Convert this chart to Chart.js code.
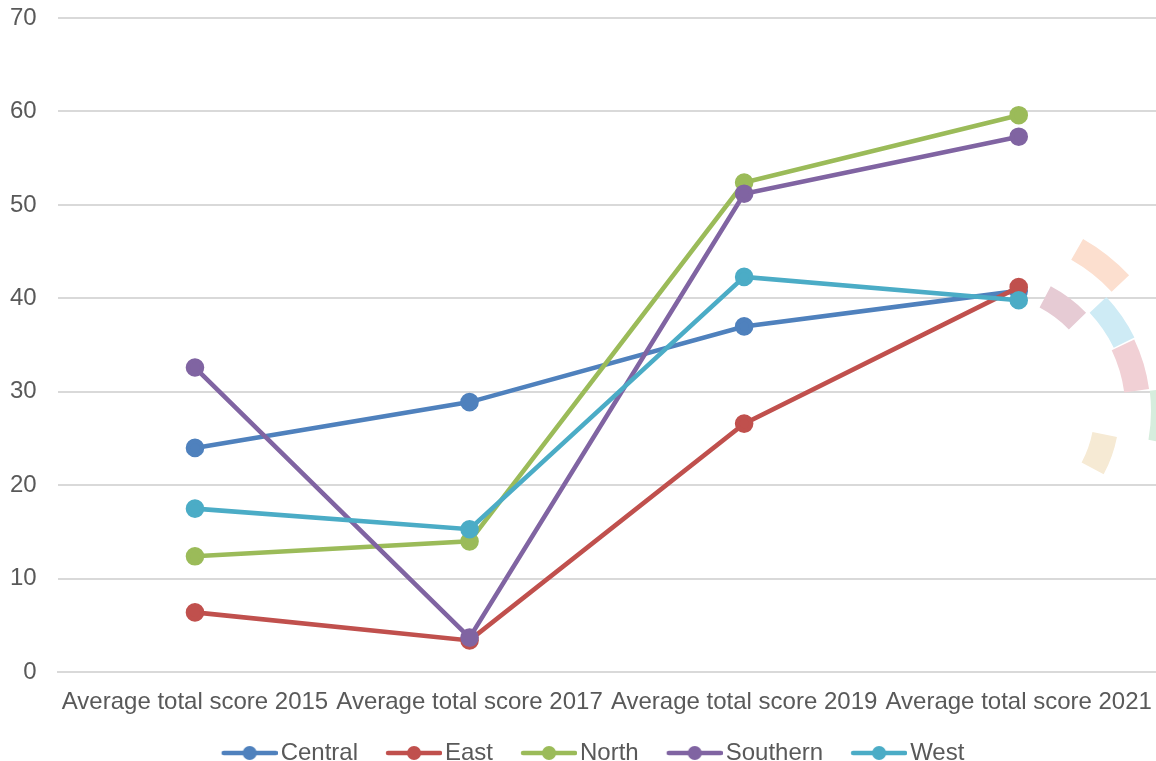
<!DOCTYPE html>
<html>
<head>
<meta charset="utf-8">
<script src="https://cdn.jsdelivr.net/npm/chart.js@4.4.1/dist/chart.umd.min.js"></script>
<style>
    html, body { margin: 0; padding: 0; background: white; }
    #wrap { width: 1156px; height: 761px; }
</style>
</head>
<body>
<div id="wrap"><canvas id="chart"></canvas></div>
<script>
const categories = ['Average total score 2015', 'Average total score 2017', 'Average total score 2019', 'Average total score 2021'];
const seriesNames = ['Central', 'East', 'North', 'Southern', 'West'];
const central = [24.0, 28.9, 37.0, 40.8];
const east = [6.4, 3.4, 26.6, 41.2];
const north = [12.4, 14.0, 52.4, 59.6];
const southern = [32.6, 3.7, 51.2, 57.3];
const west = [17.5, 15.3, 42.3, 39.8];
const colors = ['#4F81BD', '#C0504D', '#9BBB59', '#8064A2', '#4BACC6'];

const seriesData = [central, east, north, southern, west];

// legend icon: blank space on the left, then a short line with a dot in the middle
function makeIcon(color) {
    const c = document.createElement('canvas');
    c.width = 85;
    c.height = 16;
    const g = c.getContext('2d');
    g.strokeStyle = color;
    g.lineWidth = 4.5;
    g.lineCap = 'round';
    g.beginPath();
    g.moveTo(31, 8);
    g.lineTo(83, 8);
    g.stroke();
    g.fillStyle = color;
    g.beginPath();
    g.arc(57, 8, 7, 0, Math.PI * 2);
    g.fill();
    return c;
}
const icons = colors.map(makeIcon);

// faded ring pieces on the right side of the picture
const ringPieces = [
    { r: 186, w: 24, a: -51.8, s: 17, c: '#FCDFCF' },
    { r: 129, w: 24, a: -53.2, s: 18, c: '#E6CBD4' },
    { r: 155, w: 23, a: -34.7, s: 17, c: '#CEEBF5' },
    { r: 153, w: 25, a: -16.6, s: 18, c: '#F1D0D5' },
    { r: 176, w: 20, a: 1.5, s: 17, c: '#D6EDDD' },
    { r: 122, w: 25, a: 19.6, s: 17, c: '#F6EAD4' }
];

const ringPlugin = {
    id: 'ring_pieces',
    beforeDatasetsDraw: (chart) => {
        const ctx = chart.ctx;
        const cx = 985, cy = 411;
        ctx.save();
        ringPieces.forEach(p => {
            const a0 = (p.a - p.s / 2) * Math.PI / 180;
            const a1 = (p.a + p.s / 2) * Math.PI / 180;
            ctx.strokeStyle = p.c;
            ctx.lineWidth = p.w;
            ctx.lineCap = 'butt';
            ctx.beginPath();
            ctx.arc(cx, cy, p.r, a0, a1);
            ctx.stroke();
        });
        ctx.restore();
    }
};

const fontFamily = '"Liberation Sans", Arial, sans-serif';

new Chart(document.getElementById('chart'), {
    type: 'line',
    plugins: [ringPlugin],
    data: {
        labels: categories,
        datasets: seriesNames.map((name, i) => ({
            label: name,
            data: seriesData[i],
            borderColor: colors[i],
            backgroundColor: colors[i],
            pointBackgroundColor: colors[i],
            pointBorderColor: colors[i],
            borderWidth: 4.6,
            pointRadius: 7,
            pointHoverRadius: 7,
            tension: 0,
            order: seriesNames.length - i
        }))
    },
    options: {
        responsive: true,
        maintainAspectRatio: false,
        animation: false,
        layout: {
            autoPadding: false,
            padding: { top: 18, right: 0, left: 10, bottom: -14 }
        },
        scales: {
            x: {
                offset: true,
                grid: {
                    display: true,
                    drawOnChartArea: false,
                    drawTicks: true,
                    tickLength: 16,
                    tickColor: 'rgba(0,0,0,0)'
                },
                border: { display: true, color: '#D9D9D9', width: 2 },
                ticks: {
                    color: '#595959',
                    maxRotation: 0,
                    autoSkip: false,
                    padding: 0,
                    font: { family: fontFamily, size: 24 }
                },
                afterFit: (scale) => {
                    scale.height += 16;
                    scale.paddingLeft = 0;
                    scale.paddingRight = 0;
                }
            },
            y: {
                min: 0,
                max: 70,
                grid: {
                    color: '#D9D9D9',
                    lineWidth: 2,
                    drawTicks: true,
                    tickLength: 21,
                    tickColor: 'rgba(0,0,0,0)'
                },
                border: { display: false },
                ticks: {
                    stepSize: 10,
                    color: '#595959',
                    padding: 0,
                    font: { family: fontFamily, size: 24 }
                }
            }
        },
        plugins: {
            legend: {
                position: 'bottom',
                labels: {
                    usePointStyle: true,
                    pointStyleWidth: 67,
                    padding: 8,
                    color: '#595959',
                    font: { family: fontFamily, size: 24 },
                    sort: (a, b) => a.datasetIndex - b.datasetIndex,
                    generateLabels: function (chart) {
                        const items = Chart.defaults.plugins.legend.labels.generateLabels(chart);
                        items.forEach(it => { it.pointStyle = icons[it.datasetIndex]; });
                        return items;
                    }
                },
                onClick: (e) => e.stopPropagation()
            },
            tooltip: { enabled: false }
        }
    }
});
</script>
</body>
</html>
